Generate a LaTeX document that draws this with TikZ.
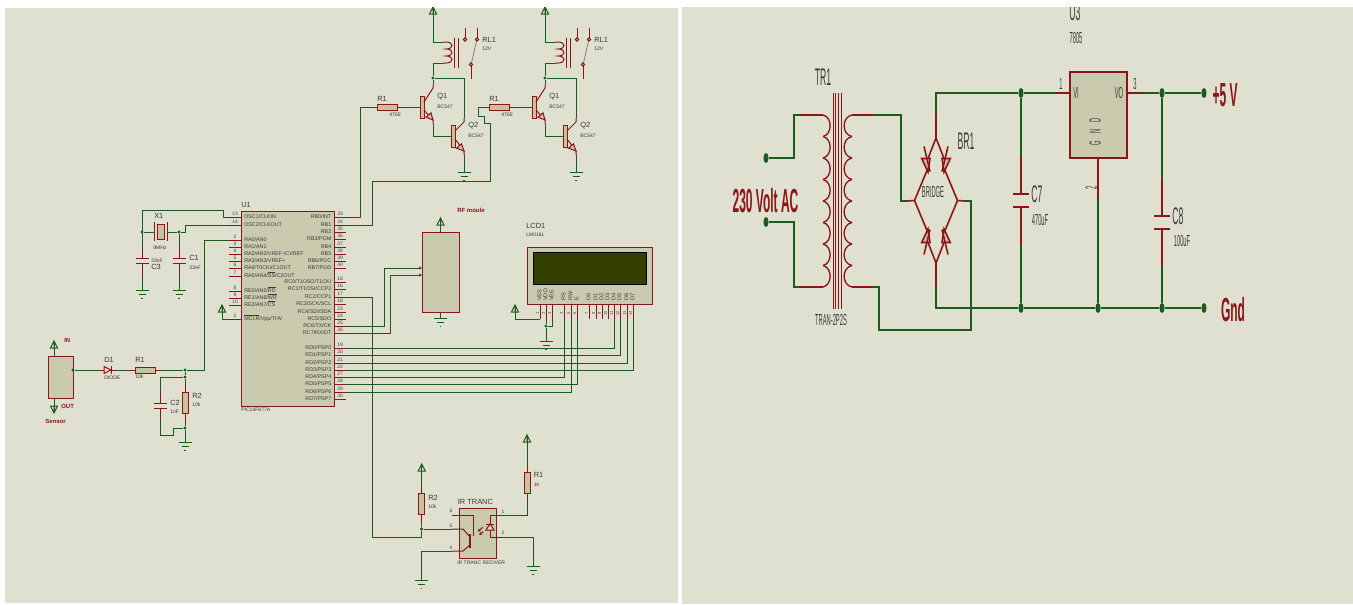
\documentclass[tikz,border=0pt]{standalone}
\usepackage{graphicx}
\usepackage{fontspec}
\setmainfont{Liberation Sans}
\usepackage{xcolor}
\usetikzlibrary{shapes,positioning,arrows.meta}
\definecolor{sheetc}{HTML}{DFE0D0}
\definecolor{bodyc}{HTML}{C9CAAE}
\definecolor{resc}{HTML}{C9C2A0}
\definecolor{wirec}{HTML}{1D5A1D}
\definecolor{partc}{HTML}{8B1518}
\definecolor{txtc}{HTML}{3A3A3A}
\definecolor{lcdc}{HTML}{333F00}
\newcommand{\ovl}[1]{$\overline{\mbox{#1}}$}
\newcommand{\squeeze}[1]{\scalebox{.36}[1]{#1}}
\tikzset{wire/.style={draw=wirec,line width=.75pt},
    lead/.style={draw=partc,line width=.75pt},
    bigwire/.style={draw=wirec,line width=1.2pt},
    biglead/.style={draw=partc,line width=1.2pt},
    body/.style 2 args={draw=partc,fill=bodyc,line width=.65pt,inner sep=0,minimum width=#1*.75pt,minimum height=#2*.75pt},
    res/.style 2 args={draw=partc,fill=resc,line width=.65pt,inner sep=0,minimum width=#1*.75pt,minimum height=#2*.75pt},
    lbl/.style={anchor=west,inner sep=0,text=txtc,font=\fontsize{5.6}{6}\selectfont},
    val/.style={anchor=west,inner sep=0,text=txtc,font=\fontsize{3.8}{4}\selectfont},
    pinno/.style={inner sep=0,text=txtc,font=\fontsize{3.7}{4}\selectfont},
    pintext/.style={inner sep=0,text=txtc,text height=3pt,text depth=.8pt,font=\fontsize{4}{5}\selectfont},
    tag/.style={anchor=west,inner sep=0,text=partc,font=\bfseries\fontsize{4.5}{5}\selectfont},
    big/.style={inner sep=0,text=txtc,font=\fontsize{18}{20}\selectfont},
    bigval/.style={inner sep=0,text=txtc,font=\fontsize{12}{14}\selectfont},
    bigtag/.style={inner sep=0,text=partc,font=\bfseries\fontsize{25}{27}\selectfont},
    dot/.style={circle,fill=wirec,inner sep=0,minimum size=2.6pt},
    bigdot/.style={ellipse,fill=wirec,inner sep=0,minimum width=3.8pt,minimum height=7.5pt},
    gnd/.pic={\draw[wire] (-6.5,0) -- (6.5,0) (-3.5,4) -- (3.5,4) (-.7,8) -- (.7,8);},
    vcc/.pic={\draw[wire] (0,0) -- (3.5,7) -- (-3.5,7) -- cycle (0,0) -- (0,7);}}
\begin{document}
\begin{tikzpicture}[x=.75pt,y=-.75pt,>={Stealth[length=2.4pt,width=2.4pt]}]
    \useasboundingbox (0,0) rectangle (1353,604);
    \fill[sheetc] (5,8) rectangle (678,603);
    \fill[sheetc] (682,7) rectangle (1353,604);

    % controller
    \node[body={93}{195}] (u1) at (287.5,308.5) {};
    \node[lbl] (u1lab) at (241,205) {U1};
    \node[val] (u1type) at (241,410) {PIC16F877A};
    \foreach \y/\n/\lab in {217/13/{OSC1/CLKIN},225/14/{OSC2/CLKOUT},240/2/{RA0/AN0},247/3/{RA1/AN1},254/4/{RA2/AN2/VREF-/CVREF},261/5/{RA3/AN3/VREF+},268/6/{RA4/T0CKI/C1OUT},276/7/{RA5/AN4/\ovl{SS}/C2OUT},291/8/{RE0/AN5/\ovl{RD}},298/9/{RE1/AN6/\ovl{WR}},305/10/{RE2/AN7/\ovl{CS}},319/1/{\ovl{MCLR}/Vpp/THV}}{
        \coordinate (u1p\n) at (229,\y);
        \draw[lead] (u1p\n) -- (241,\y);
        \node[pinno] (u1n\n) at (235,\y-3) {\n};
        \node[pintext,anchor=west] (u1t\n) at (244,\y) {\lab};
    }
    \foreach \y/\n/\lab in {217/33/{RB0/INT},225/34/RB1,232/35/RB2,239/36/{RB3/PGM},247/37/RB4,254/38/RB5,261/39/{RB6/PGC},268/40/{RB7/PGD},282/15/{RC0/T1OSO/T1CKI},289/16/{RC1/T1OSI/CCP2},297/17/{RC2/CCP1},304/18/{RC3/SCK/SCL},312/23/{RC4/SDI/SDA},319/24/{RC5/SDO},326/25/{RC6/TX/CK},333/26/{RC7/RX/DT},348/19/{RD0/PSP0},355/20/{RD1/PSP1},363/21/{RD2/PSP2},370/22/{RD3/PSP3},377/27/{RD4/PSP4},384/28/{RD5/PSP5},392/29/{RD6/PSP6},399/30/{RD7/PSP7}}{
        \coordinate (u1p\n) at (346,\y);
        \draw[lead] (334,\y) -- (u1p\n);
        \node[pinno] (u1n\n) at (340,\y-3) {\n};
        \node[pintext,anchor=east] (u1t\n) at (331.5,\y) {\lab};
    }

    % crystal and its capacitors
    \coordinate (xa) at (223,210);
    \coordinate (xb) at (185,225);
    \coordinate (x1l) at (154,232);
    \coordinate (x1r) at (167,232);
    \node[dot] (jx1) at (142,232) {};
    \node[dot] (jx2) at (179,232) {};
    \node[res={7}{15}] (x1) at (160.5,231.5) {};
    \draw[lead] (154,222) -- (154,241) (167,222) -- (167,241);
    \node[lbl] (x1lab) at (154,216) {X1};
    \node[val] (x1val) at (153,247.5) {8MHz};
    \foreach \x/\y/\nm in {142/258/c3,179/258/c1,160/403/c2}{
        \coordinate (\nm t) at (\x,\y-11);
        \coordinate (\nm b) at (\x,\y+17);
        \draw[lead] (\nm t) -- (\x,\y) (\x,\y+5) -- (\nm b);
        \draw[lead] (\x-6.5,\y) -- (\x+6.5,\y) (\x-6.5,\y+5) -- (\x+6.5,\y+5);
    }
    \node[val] (c3val) at (151,261) {33nF};
    \node[lbl] (c3lab) at (151,266.5) {C3};
    \node[lbl] (c1lab) at (189,258) {C1};
    \node[val] (c1val) at (189,268) {33nF};
    \coordinate (g3) at (142,290);
    \coordinate (g1) at (179,290);
    \pic at (g3) {gnd};
    \pic at (g1) {gnd};
    \draw[wire] (u1p13) -| (xa) -| (c3t);
    \draw[wire] (jx1) -- (x1l);
    \draw[wire] (x1r) -- (jx2) -- (c1t);
    \draw[wire] (jx2) -| (xb) -- (u1p14);
    \draw[wire] (c3b) -- (g3);
    \draw[wire] (c1b) -- (g1);

    % sensor
    \node[body={25}{42}] (sens) at (60.5,377) {};
    \node[dot] (js) at (73,370) {};
    \coordinate (sin) at (54,341);
    \coordinate (sout) at (54,413);
    \pic at (sin) {vcc};
    \pic[yscale=-1] at (sout) {vcc};
    \draw[wire] (54,356) -- (sin);
    \draw[wire] (54,398) -- (sout);
    \node[tag] (sinlab) at (64,340) {IN};
    \node[tag] (soutlab) at (61,406) {OUT};
    \node[tag] (senslab) at (45,421) {Sensor};
    \coordinate (d1a) at (99,370);
    \coordinate (d1k) at (116,370);
    \draw[lead] (d1a) -- (d1k);
    \draw[lead,fill=sheetc] (104,366.5) -- (111,370) -- (104,373.5) -- cycle;
    \draw[lead] (111,366) -- (111,374);
    \node[lbl] (d1lab) at (104,360) {D1};
    \node[val] (d1val) at (104,378) {DIODE};
    \coordinate (r1a) at (130,370);
    \coordinate (r1b) at (160,370);
    \draw[lead] (r1a) -- (r1b);
    \node[res={20}{6}] (r1) at (145,370) {};
    \node[lbl] (r1lab) at (135,360) {R1};
    \node[val] (r1val) at (135,377) {10k};
    \node[dot] (j1) at (185,370) {};
    \node[dot] (j2) at (185,377) {};
    \node[dot] (j3) at (185,428) {};
    \coordinate (xc) at (204,240);
    \coordinate (xd) at (173,435);
    \coordinate (r2a) at (185,385);
    \coordinate (r2b) at (185,420);
    \coordinate (g2) at (185,442);
    \draw[lead] (r2a) -- (r2b);
    \node[res={6}{21}] (r2) at (185,402.5) {};
    \node[lbl] (r2lab) at (192,396) {R2};
    \node[val] (r2val) at (192,405) {10k};
    \node[lbl] (c2lab) at (170,403) {C2};
    \node[val] (c2val) at (170,412) {1nF};
    \pic at (g2) {gnd};
    \draw[wire] (js) -- (d1a);
    \draw[wire] (d1k) -- (r1a);
    \draw[wire] (r1b) -- (j1);
    \draw[wire] (j1) -| (xc) -- (u1p2);
    \draw[wire] (j1) -- (j2) -- (r2a);
    \draw[wire] (j2) -| (c2t);
    \draw[wire] (c2b) |- (xd) |- (j3);
    \draw[wire] (r2b) -- (j3) -- (g2);
    \coordinate (vm) at (222,305);
    \pic at (vm) {vcc};
    \draw[wire] (u1p1) -| (vm);

    % relay stages
    \foreach \s/\nm in {0/a,112/b}{
        \begin{scope}[xshift=\s*.75pt]
            \coordinate (vr\nm) at (433,7);
            \coordinate (ca\nm) at (443,42);
            \coordinate (cb\nm) at (443,63);
            \node[dot] (jr\nm) at (433,78) {};
            \coordinate (xr\nm) at (464,78);
            \coordinate (q1c\nm) at (433,88);
            \coordinate (q1e\nm) at (433,120);
            \coordinate (q2c\nm) at (464,122);
            \coordinate (q2e\nm) at (464,151);
            \coordinate (gr\nm) at (464,172);
            \pic at (vr\nm) {vcc};
            \pic at (gr\nm) {gnd};
            \draw[lead] (ca\nm) -- (446,42) .. controls (454,42) and (454,49) .. (446,49) .. controls (454,49) and (454,56) .. (446,56) .. controls (454,56) and (454,63) .. (446,63) -- (cb\nm);
            \draw[lead] (454,38) -- (454,68) (458,38) -- (458,68);
            \draw[lead] (465,28) -- (465,38) (477,28) -- (477,38);
            \draw[lead,fill=sheetc] (465,39.5) circle (1.6);
            \draw[lead,fill=sheetc] (477,39.5) circle (1.6);
            \draw[gray,line width=.6pt] (476.5,41) -- (471.5,63);
            \draw[lead,fill=sheetc] (471,64.5) circle (1.6);
            \draw[lead] (471,66) -- (471,79);
            \node[lbl] (rllab\nm) at (482,40) {RL1};
            \node[val] (rlval\nm) at (482,49) {12V};
            % transistors
            \node[res={4}{22}] (q1\nm) at (422,107) {};
            \node[res={4}{22}] (q2\nm) at (453,136) {};
            \draw[lead] (424,102) -- (q1c\nm) -- (433,85);
            \draw[lead] (424,110) -- (q1e\nm) -- (433,124);
            \draw[lead,fill=resc] (q1e\nm) -- (431,112.8) -- (426,117.2) -- cycle;
            \draw[lead] (455,131) -- (q2c\nm) -- (464,118);
            \draw[lead] (455,139) -- (q2e\nm) -- (464,155);
            \draw[lead,fill=resc] (q2e\nm) -- (461.5,143.8) -- (456.5,148.2) -- cycle;
            \node[lbl] (q1lab\nm) at (437,97) {Q1};
            \node[val] (q1val\nm) at (437,107) {BC547};
            \node[lbl] (q2lab\nm) at (468,126) {Q2};
            \node[val] (q2val\nm) at (468,135.5) {BC547};
            % base resistor
            \coordinate (rin\nm) at (372,107);
            \coordinate (rou\nm) at (402,107);
            \draw[lead] (rin\nm) -- (rou\nm);
            \node[res={20}{6}] (rb\nm) at (387,107) {};
            \node[lbl] (rblab\nm) at (377,99) {R1};
            \node[val] (rbval\nm) at (389,115) {470E};
            \draw[wire] (vr\nm) |- (ca\nm);
            \draw[wire] (cb\nm) -| (jr\nm);
            \draw[wire] (jr\nm) -- (433,85);
            \draw[wire] (jr\nm) -- (xr\nm) -- (464,118);
            \draw[wire] (rou\nm) -- (q1\nm);
            \draw[wire] (433,124) |- (q2\nm);
            \draw[wire] (464,155) -- (gr\nm);
        \end{scope}
    }
    \coordinate (feeda) at (360,107);
    \coordinate (feedb) at (372,181);
    \coordinate (feedc) at (490,181);
    \coordinate (feedd) at (490,123);
    \coordinate (feede) at (484,123);
    \coordinate (feedf) at (484,116);
    \coordinate (feedg) at (478,116);
    \coordinate (feedh) at (478,107);
    \draw[wire] (u1p33) -| (feeda) -- (rina);
    \draw[wire] (u1p34) -| (feedb) -- (feedc) -- (feedd) -- (feede) -- (feedf) -- (feedg) -- (feedh) -- (rinb);

    % rf module
    \node[body={37}{80}] (rf) at (440.5,272) {};
    \node[tag] (rflab) at (457,210) {RF moule};
    \coordinate (vrf) at (440.5,218);
    \coordinate (grf) at (440.5,318);
    \coordinate (xe) at (384,268);
    \coordinate (xf) at (390,275);
    \coordinate (rfa) at (422,268);
    \coordinate (rfb) at (422,275);
    \pic at (vrf) {vcc};
    \pic at (grf) {gnd};
    \draw[wire] (vrf) -- (rf.north);
    \draw[wire] (rf.south) -- (grf);
    \draw[wire,->] (u1p25) -| (xe) -- (rfa);
    \draw[wire,->] (u1p26) -| (xf) -- (rfb);

    % lcd
    \node[body={125}{57}] (lcd) at (589.5,275.5) {};
    \node[draw=black,fill=lcdc,line width=.65pt,inner sep=0,minimum width=84.75pt,minimum height=24pt] (screen) at (589.5,268) {};
    \node[lbl] (lcdlab) at (526,226) {LCD1};
    \node[val] (lcdval) at (526,235) {LM016L};
    \foreach \x/\n/\lab in {540/1/VSS,546/2/VDD,552/3/VEE,564/4/RS,571/5/RW,577/6/E,589/7/D0,596/8/D1,602/9/D2,608/10/D3,614/11/D4,620/12/D5,627/13/D6,633/14/D7}{
        \coordinate (lcdp\n) at (\x,319);
        \draw[lead] (\x,304) -- (lcdp\n);
        \node[pinno,rotate=90,font=\fontsize{3}{3}\selectfont] (lcdn\n) at (\x-2.6,313) {\n};
        \node[pintext,rotate=90,anchor=west,font=\fontsize{4.2}{5}\selectfont] (lcdt\n) at (\x,301) {\lab};
    }
    \foreach \a/\b in {19/11,20/12,21/13,22/14,27/4,28/6,29/5}{
        \draw[wire] (u1p\a) -| (lcdp\b);
    }
    \coordinate (vl) at (515,305);
    \coordinate (gl) at (546,341);
    \node[dot] (jl) at (546,326) {};
    \pic at (vl) {vcc};
    \pic at (gl) {gnd};
    \draw[wire] (lcdp1) -| (vl);
    \draw[wire] (lcdp2) -- (jl) -- (gl);
    \draw[wire] (lcdp3) |- (jl);

    % ir pair
    \node[body={37}{50}] (ir) at (477.5,533) {};
    \node[lbl] (irlab) at (457.5,502) {IR TRANC};
    \node[val] (irval) at (457,563) {IR TRANC RECIVER};
    \foreach \x/\y/\n in {451/511/6,451/526/5,451/548/4,503/512/1,503/533/2}{
        \node[pinno] (irn\n) at (\x,\y) {\n};
    }
    \coordinate (ir6) at (452,515);
    \coordinate (ir5) at (452,529);
    \coordinate (ir4) at (452,551);
    \coordinate (ir1) at (503,515);
    \coordinate (ir2) at (503,537);
    \draw[lead] (ir6) -- (473,515) -- (473,536);
    \draw[lead] (ir5) -- (463,529) -- (470,537);
    \draw[lead] (ir4) -- (463,551) -- (470,545);
    \draw[lead,line width=1.3pt] (470,534) -- (470,548);
    \draw[lead] (ir1) -- (490,515) -- (490,537) -- (ir2);
    \draw[lead,fill=sheetc] (486,530) -- (494,530) -- (490,524) -- cycle;
    \draw[lead] (486,524) -- (494,524);
    \draw[lead,->] (482.7,527.3) -- (477.7,531.7);
    \draw[lead,->] (483.3,531.7) -- (479,535);
    \coordinate (r3v) at (527,435);
    \coordinate (r3a) at (527,465);
    \coordinate (r3b) at (527,500);
    \coordinate (r3x) at (527,515);
    \coordinate (r4v) at (421.7,464);
    \coordinate (r4a) at (421.7,486);
    \coordinate (r4b) at (421.7,521);
    \node[dot] (jr4) at (421.7,529) {};
    \coordinate (xm) at (372,537);
    \coordinate (xn) at (421.7,537);
    \coordinate (gi4) at (421.7,580);
    \coordinate (gi2) at (533,566);
    \draw[lead] (r3a) -- (r3b);
    \draw[lead] (r4a) -- (r4b);
    \node[res={6}{21}] (r3) at (527,482.5) {};
    \node[res={6}{21}] (r4) at (421.7,503.5) {};
    \node[lbl] (r3lab) at (533.5,475) {R1};
    \node[val] (r3val) at (533.5,485) {1k};
    \node[lbl] (r4lab) at (428,498) {R2};
    \node[val] (r4val) at (428,507) {10k};
    \pic at (r3v) {vcc};
    \pic at (r4v) {vcc};
    \pic at (gi4) {gnd};
    \pic at (gi2) {gnd};
    \draw[wire] (r3v) -- (r3a);
    \draw[wire] (r3b) -- (r3x) -- (ir1);
    \draw[wire] (ir2) -| (gi2);
    \draw[wire] (r4v) -- (r4a);
    \draw[wire] (r4b) -- (jr4) -- (xn);
    \draw[wire] (jr4) -- (ir5);
    \draw[wire] (ir4) -| (gi4);
    \draw[wire] (u1p17) -| (xm) -- (xn);

    % supply: transformer
    \node[big] (trlab) at (823,77) {\squeeze{TR1}};
    \node[bigval] (trval) at (831,320) {\squeeze{TRAN-2P2S}};
    \foreach \x in {833,835.7,838.3,841}{
        \draw[lead,line width=.7pt] (\x,93) -- (\x,309);
    }
    \foreach \i [evaluate=\i as \a using 115+21.5*\i,evaluate=\i as \b using 136.5+21.5*\i] in {0,...,7}{
        \draw[biglead,line width=1pt] (823,\a) .. controls (832.5,\a+2) and (832.5,\b-2) .. (823,\b);
        \draw[biglead,line width=1pt] (852,\a) .. controls (841.5,\a+2) and (841.5,\b-2) .. (852,\b);
    }
    \coordinate (tl1) at (801,115);
    \coordinate (tl2) at (801,287);
    \coordinate (tr1) at (873,115);
    \coordinate (tr2) at (873,287);
    \draw[biglead] (tl1) -- (823,115) (tl2) -- (823,287) (tr1) -- (852,115) (tr2) -- (852,287);
    \node[bigdot] (ac1) at (766,158) {};
    \node[bigdot] (ac2) at (766,222) {};
    \node[bigtag] (aclab) at (765.5,201) {\squeeze{230 Volt AC}};
    \coordinate (xh) at (794,115);
    \coordinate (xi) at (794,287);
    \draw[bigwire] (ac1) -| (xh) -- (tl1);
    \draw[bigwire] (ac2) -| (xi) -- (tl2);

    % supply: bridge
    \coordinate (brl) at (914.5,200.5);
    \coordinate (brr) at (957.5,200.5);
    \coordinate (brt) at (936,138);
    \coordinate (brb) at (936,263);
    \foreach \sx/\sy in {1/1,-1/1,1/-1,-1/-1}{
        \begin{scope}[shift={(936,200.5)},xscale=\sx,yscale=\sy]
            \draw[biglead] (0,-62.5) -- (-8,-42) (-9,-30) -- (-21.5,0);
            \draw[biglead,fill=resc] (-14.3,-42) -- (-6,-42) -- (-8,-28.5) -- cycle;
            \draw[biglead] (-12,-54) -- (-6,-29);
        \end{scope}
    }
    \node[bigval] (brtext) at (933,192) {\squeeze{BRIDGE}};
    \node[big] (brlab) at (966,141.5) {\squeeze{BR1}};
    \coordinate (bi1) at (907,201);
    \coordinate (bi2) at (965,201);
    \coordinate (bt) at (936,113);
    \coordinate (bb) at (936,287);
    \coordinate (xj) at (901,201);
    \coordinate (xk) at (879,330);
    \coordinate (xl) at (971,201);
    \draw[biglead] (bi1) -- (brl) (bi2) -- (brr) (bt) -- (brt) (bb) -- (brb);
    \draw[bigwire] (tr1) -| (xj) -- (bi1);
    \draw[bigwire] (tr2) -| (xk) -| (xl) -- (bi2);

    % supply: regulator
    \node[body={57}{86},line width=1.3pt] (u3) at (1098.5,115) {};
    \node[big] (u3lab) at (1075,12) {\squeeze{U3}};
    \node[bigval] (u3val) at (1076,38) {\squeeze{7805}};
    \node[bigval] (u3vi) at (1076,93) {\squeeze{VI}};
    \node[bigval] (u3vo) at (1119,93) {\squeeze{VO}};
    \node[bigval,rotate=90] (u3gnd) at (1095,132) {\squeeze{G\hspace{1.2em}N\hspace{1.2em}D}};
    \node[bigval] (u3n1) at (1061,84) {\squeeze{1}};
    \node[bigval] (u3n3) at (1135,84) {\squeeze{3}};
    \node[bigval,rotate=90] (u3n2) at (1091,188) {\squeeze{2}};
    \coordinate (u3i) at (1056,93);
    \coordinate (u3o) at (1142,93);
    \coordinate (u3g) at (1098,200);
    \draw[biglead] (u3i) -- (1069,93) (u3o) -- (1128,93) (u3g) -- (1098,159);
    \node[bigdot] (j7) at (1021,93) {};
    \node[bigdot] (j8) at (1021,308) {};
    \node[bigdot] (j9) at (1098,308) {};
    \node[bigdot] (j10) at (1162,93) {};
    \node[bigdot] (j11) at (1162,308) {};
    \node[bigdot] (pos) at (1204,93) {};
    \node[bigdot] (neg) at (1204,308) {};
    \node[bigtag] (poslab) at (1225,95) {\squeeze{+5 V}};
    \node[bigtag] (neglab) at (1233,310) {\squeeze{Gnd}};
    \foreach \x/\y/\nm in {1021/194/c7,1162/216/c8}{
        \coordinate (\nm t) at (\x,\y-37);
        \coordinate (\nm b) at (\x,\y+50);
        \draw[biglead] (\nm t) -- (\x,\y) (\x,\y+13) -- (\nm b);
        \draw[biglead] (\x-8,\y) -- (\x+8,\y) (\x-8,\y+13) -- (\x+8,\y+13);
    }
    \node[big] (c7lab) at (1037,194) {\squeeze{C7}};
    \node[bigval] (c7val) at (1040,220) {\squeeze{470uF}};
    \node[big] (c8lab) at (1178,216) {\squeeze{C8}};
    \node[bigval] (c8val) at (1182,241) {\squeeze{100uF}};
    \draw[bigwire] (bt) |- (j7) -- (u3i);
    \draw[bigwire] (bb) |- (j8) -- (j9) -- (j11) -- (neg);
    \draw[bigwire] (u3o) -- (j10) -- (pos);
    \draw[bigwire] (j7) -- (c7t);
    \draw[bigwire] (c7b) -- (j8);
    \draw[bigwire] (j10) -- (c8t);
    \draw[bigwire] (c8b) -- (j11);
    \draw[bigwire] (u3g) -- (j9);

    \fill[white] (0,0) rectangle (1353,7);
\end{tikzpicture}
\end{document}
